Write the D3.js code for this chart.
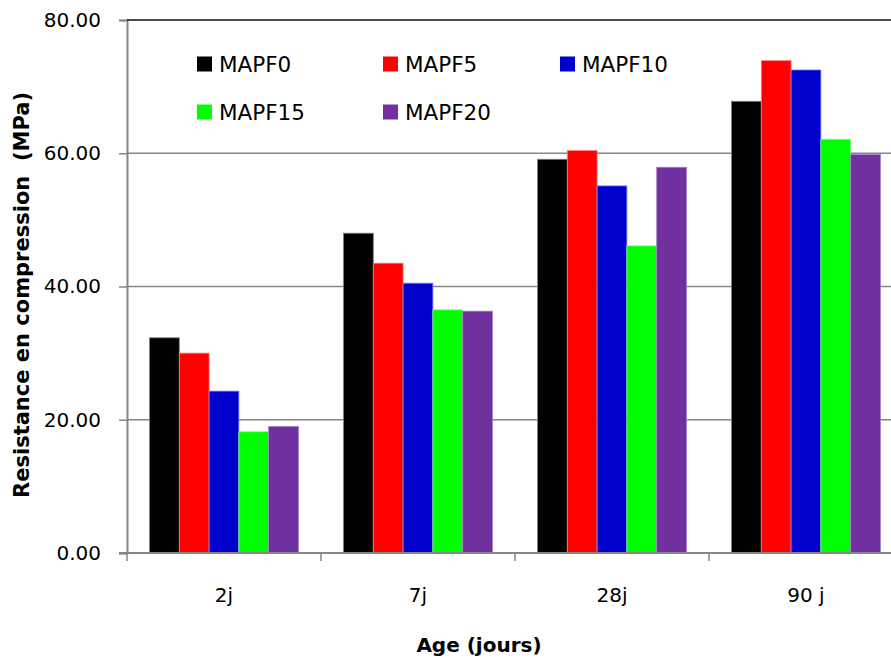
<!DOCTYPE html>
<html>
<head>
<meta charset="utf-8">
<script src="https://cdn.jsdelivr.net/npm/d3@7"></script>
<style>
  html, body { margin: 0; padding: 0; background: #fff; }
  svg { display: block; font-family: "DejaVu Sans", sans-serif; }
</style>
</head>
<body>
<svg id="chart" width="891" height="658"></svg>
<script>
// Compressive strength by age for each mix
const ages = ["2j", "7j", "28j", "90 j"];
const seriesNames = ["MAPF0", "MAPF5", "MAPF10", "MAPF15", "MAPF20"];
const MAPF0  = [32.3, 48.0, 59.1, 67.8];
const MAPF5  = [30.0, 43.5, 60.4, 73.9];
const MAPF10 = [24.3, 40.5, 55.1, 72.5];
const MAPF15 = [18.2, 36.5, 46.1, 62.1];
const MAPF20 = [19.0, 36.3, 57.9, 59.8];
const yTicks = [0, 20, 40, 60, 80];
const colors = ["#000000", "#ff0000", "#0000cc", "#00ff00", "#7030a0"];
const strokes = ["#808080", "#ff8080", "#8080ff", "#80ff80", "#a080c0"];

const seriesValues = [MAPF0, MAPF5, MAPF10, MAPF15, MAPF20];

const svg = d3.select("#chart");
const plotLeft = 127, plotTop = 20, plotBottom = 553;
const bandW = 194;
const plotRight = plotLeft + bandW * ages.length;

const x = d3.scaleBand().domain(ages).range([plotLeft, plotRight]).paddingInner(45 / 194).paddingOuter(22.5 / 194);
const xs = d3.scaleBand().domain(seriesNames).range([0, x.bandwidth()]);
const y = d3.scaleLinear().domain([0, 80]).range([plotBottom, plotTop]);

// gridlines
svg.append("g").selectAll("line").data(yTicks.filter(t => t > 0 && t < 80)).join("line")
  .attr("x1", plotLeft).attr("x2", plotRight)
  .attr("y1", d => y(d)).attr("y2", d => y(d))
  .attr("stroke", "#868686").attr("stroke-width", 1.5);

// bars
const groups = svg.append("g").selectAll("g").data(ages).join("g")
  .attr("transform", d => `translate(${x(d)},0)`);
groups.selectAll("rect").data((d, i) => seriesNames.map((s, k) => ({ s, k, v: seriesValues[k][i] }))).join("rect")
  .attr("x", d => xs(d.s)).attr("width", xs.bandwidth())
  .attr("y", d => y(d.v)).attr("height", d => y(0) - y(d.v))
  .attr("fill", d => colors[d.k]).attr("stroke", d => strokes[d.k]).attr("stroke-width", 0.8);

// y axis
const yAxis = d3.axisLeft(y).tickValues(yTicks).tickSize(8).tickPadding(18).tickFormat(d3.format(".2f"));
const ya = svg.append("g").attr("transform", `translate(${plotLeft},0)`).call(yAxis);
ya.select(".domain").attr("stroke", "#868686").attr("stroke-width", 2);
ya.selectAll(".tick line").attr("stroke", "#868686").attr("stroke-width", 1.5);
ya.selectAll(".tick text").attr("font-size", 20).attr("fill", "#000").attr("font-family", "DejaVu Sans, sans-serif");

// top border
svg.append("line").attr("x1", plotLeft).attr("x2", plotRight).attr("y1", y(80)).attr("y2", y(80))
  .attr("stroke", "#111").attr("stroke-width", 1.5);

// x axis (category boundaries as ticks)
const xa = svg.append("g").attr("transform", `translate(0,${plotBottom})`);
xa.append("line").attr("x1", plotLeft - 8).attr("x2", plotRight).attr("y1", 0).attr("y2", 0)
  .attr("stroke", "#868686").attr("stroke-width", 2);
xa.selectAll("line.b").data(d3.range(ages.length + 1)).join("line").attr("class", "b")
  .attr("x1", i => plotLeft + i * bandW).attr("x2", i => plotLeft + i * bandW)
  .attr("y1", 0).attr("y2", 8).attr("stroke", "#868686").attr("stroke-width", 1.5);
xa.selectAll("text").data(ages).join("text")
  .attr("x", d => x(d) + x.bandwidth() / 2).attr("y", 49)
  .attr("text-anchor", "middle").attr("font-size", 20).attr("fill", "#000").text(d => d);

// axis titles
svg.append("text").attr("x", 479).attr("y", 652).attr("text-anchor", "middle")
  .attr("font-size", 20).attr("font-weight", "bold").text("Age (jours)");
svg.append("text").attr("transform", `translate(29,295) rotate(-90)`).attr("text-anchor", "middle")
  .attr("font-size", 21).attr("font-weight", "bold").attr("xml:space", "preserve")
  .text("Resistance en compression  (MPa)");

// legend
const legendPos = [[197, 64], [383, 64], [560, 64], [197, 112], [383, 112]];
const lg = svg.append("g").selectAll("g").data(seriesNames).join("g")
  .attr("transform", (d, i) => `translate(${legendPos[i][0]},${legendPos[i][1]})`);
lg.append("rect").attr("x", 0).attr("y", -7.5).attr("width", 15).attr("height", 15)
  .attr("fill", (d, i) => colors[i]);
lg.append("text").attr("x", 22).attr("y", 7.5).attr("font-size", 21.5).attr("fill", "#000").text(d => d);
</script>
</body>
</html>
